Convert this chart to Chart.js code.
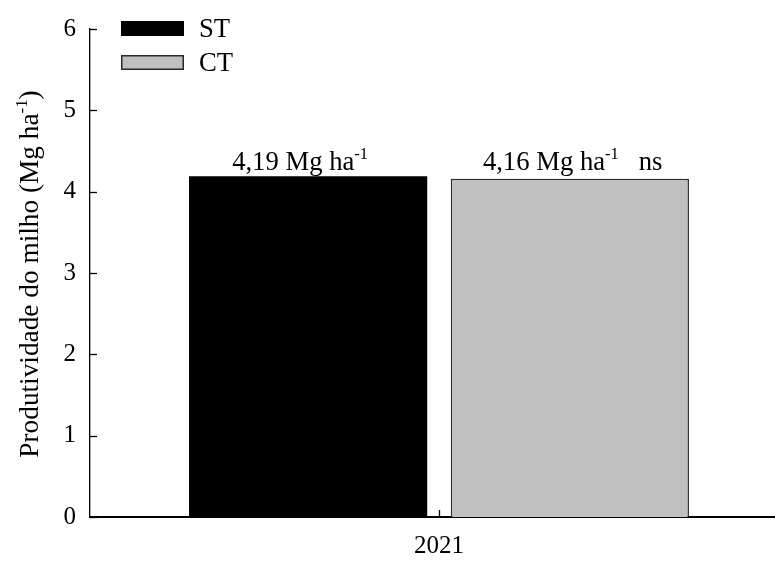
<!DOCTYPE html>
<html>
<head>
<meta charset="utf-8">
<script src="https://cdn.jsdelivr.net/npm/chart.js@4/dist/chart.umd.min.js"></script>
<style>
  html, body { margin: 0; padding: 0; background: #fff; overflow: hidden; }
  #wrap { position: relative; width: 790px; height: 562px; }
</style>
</head>
<body>
<div id="wrap"><canvas id="c"></canvas></div>
<script>
// ---- data ----
const categories = ['2021'];
const seriesNames = ['ST', 'CT'];
const seriesST = [4.19];
const seriesCT = [4.16];
const yTicks = [0, 1, 2, 3, 4, 5, 6];
const unitMain = 'Mg ha';
const unitSup = '-1';
const significance = 'ns';
const yTitleMain = 'Produtividade do milho (Mg ha';
const yTitleSup = '-1';
const yTitleEnd = ')';

const FONT = '"Liberation Serif", "Times New Roman", serif';
const FS = 26.67;

function drawSupText(ctx, parts, x, y, fs) {
  let cx = x;
  for (const p of parts) {
    if (p.sup) {
      ctx.font = (fs * 0.62) + 'px ' + FONT;
      ctx.fillText(p.t, cx, y - fs * 0.42);
    } else {
      ctx.font = fs + 'px ' + FONT;
      ctx.fillText(p.t, cx, y);
    }
    cx += ctx.measureText(p.t).width;
  }
  return cx - x;
}
function measureSupText(ctx, parts, fs) {
  let w = 0;
  for (const p of parts) {
    ctx.font = (p.sup ? fs * 0.62 : fs) + 'px ' + FONT;
    w += ctx.measureText(p.t).width;
  }
  return w;
}

const decor = {
  id: 'decor',
  afterDraw(chart) {
    const ctx = chart.ctx;
    const ca = chart.chartArea;
    const ys = chart.scales.y, xs = chart.scales.x;
    ctx.save();
    ctx.fillStyle = '#000';
    ctx.strokeStyle = '#000';
    // inward tick marks on y
    ctx.lineWidth = 1.3;
    yTicks.forEach(v => {
      const py = Math.round(ys.getPixelForValue(v)) + 0.5;
      ctx.beginPath(); ctx.moveTo(ca.left, py); ctx.lineTo(ca.left + 7, py); ctx.stroke();
    });
    // inward tick mark on x
    categories.forEach((c, i) => {
      const px = Math.round(xs.getPixelForValue(i)) + 0.5;
      ctx.beginPath(); ctx.moveTo(px, ca.bottom); ctx.lineTo(px, ca.bottom - 7); ctx.stroke();
    });

    // bar value labels
    ctx.textAlign = 'left';
    ctx.textBaseline = 'alphabetic';
    const topVal = Math.max(seriesST[0], seriesCT[0]);
    const baseY = ys.getPixelForValue(topVal) - 6;
    const offs = [-76, -87];
    chart.data.datasets.forEach((ds, di) => {
      const meta = chart.getDatasetMeta(di);
      meta.data.forEach((bar, i) => {
        const v = ds.data[i];
        const parts = [
          { t: v.toFixed(2).replace('.', ',') + ' ' + unitMain },
          { t: unitSup, sup: true }
        ];
        if (di === chart.data.datasets.length - 1) parts.push({ t: '   ' + significance });
        drawSupText(ctx, parts, bar.x + offs[di], baseY, FS);
      });
    });

    // legend
    const lx = 121, lw = 63, lh = 15;
    const tops = [21, 55];
    chart.data.datasets.forEach((ds, di) => {
      ctx.fillStyle = ds.backgroundColor;
      ctx.fillRect(lx, tops[di], lw, lh);
      if (ds.borderWidth) {
        ctx.lineWidth = 1.5;
        ctx.strokeStyle = ds.borderColor;
        ctx.strokeRect(lx + 0.75, tops[di] + 0.75, lw - 1.5, lh - 1.5);
      }
      ctx.fillStyle = '#000';
      ctx.font = FS + 'px ' + FONT;
      ctx.textBaseline = 'middle';
      ctx.fillText(ds.label, 199, tops[di] + lh / 2 + 1);
    });

    // y axis title (rotated, with superscript)
    ctx.textBaseline = 'alphabetic';
    const TFS = 27.3;
    const tparts = [{ t: yTitleMain }, { t: yTitleSup, sup: true }, { t: yTitleEnd }];
    const tw = measureSupText(ctx, tparts, TFS);
    const cy = (ca.top + ca.bottom) / 2 + 1;
    ctx.translate(38, cy);
    ctx.rotate(-Math.PI / 2);
    ctx.fillStyle = '#000';
    drawSupText(ctx, tparts, -tw / 2, 0, TFS);
    ctx.restore();
  }
};

new Chart(document.getElementById('c'), {
  type: 'bar',
  data: {
    labels: categories,
    datasets: [
      { label: seriesNames[0], data: seriesST, backgroundColor: '#000000', borderColor: '#000000', borderWidth: 0 },
      { label: seriesNames[1], data: seriesCT, backgroundColor: '#c0c0c0', borderColor: '#2a2a2a', borderWidth: 1.5 }
    ]
  },
  options: {
    responsive: true,
    maintainAspectRatio: false,
    animation: false,
    devicePixelRatio: 1,
    layout: { padding: { left: 0, top: 18, right: 2, bottom: 0 } },
    datasets: { bar: { categoryPercentage: 0.75, barPercentage: 0.91 } },
    plugins: { legend: { display: false }, tooltip: { enabled: false } },
    scales: {
      x: {
        type: 'category',
        grid: { display: false, drawTicks: false },
        border: { display: true, color: '#000', width: 2 },
        ticks: { color: '#000', font: { family: FONT, size: 25 }, padding: 14 },
        afterFit(s) { s.height = 45; }
      },
      y: {
        min: 0, max: 6,
        grid: { display: false, drawTicks: false },
        border: { display: true, color: '#000', width: 1.3 },
        ticks: { stepSize: 1, color: '#000', font: { family: FONT, size: 25 }, padding: 14,
                 callback: (v) => yTicks.includes(v) ? String(v) : '' },
        afterFit(s) { s.width = 90; }
      }
    }
  },
  plugins: [decor]
});
</script>
</body>
</html>
